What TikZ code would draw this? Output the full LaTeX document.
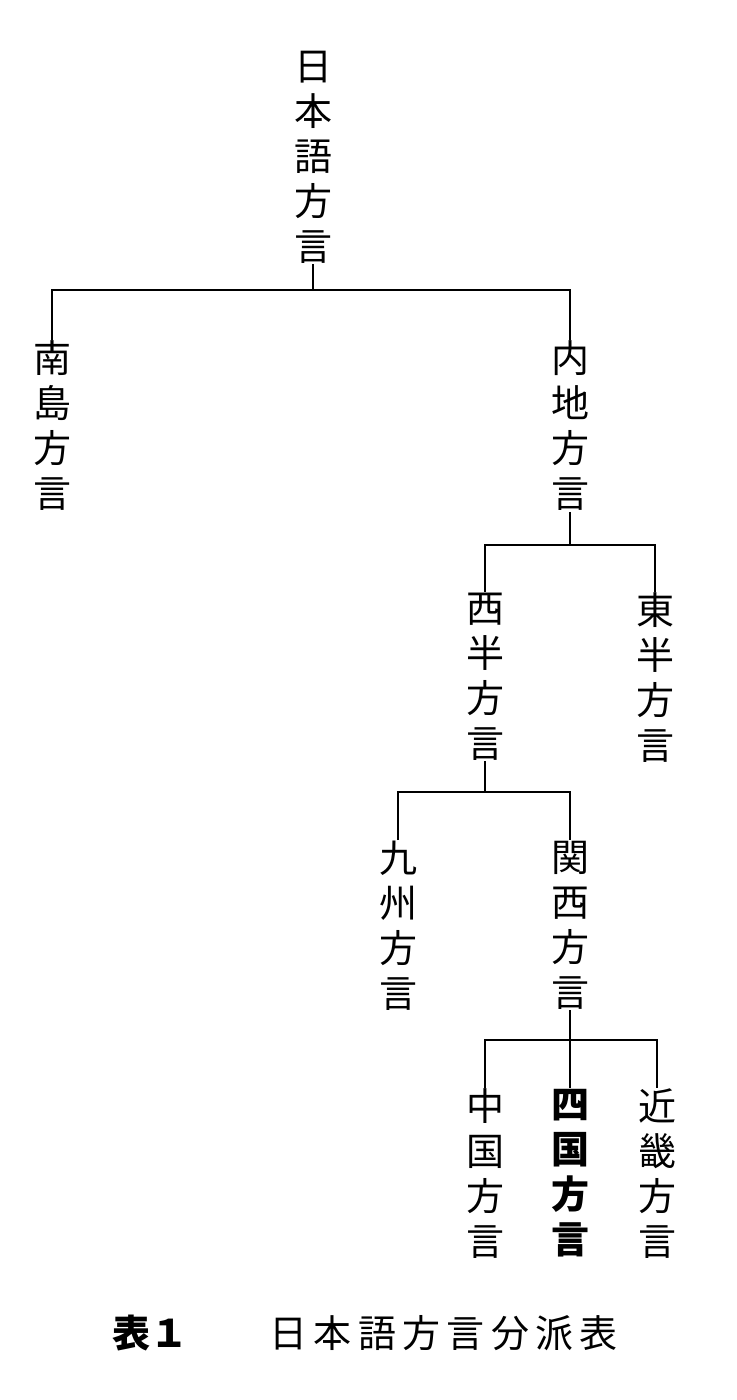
\documentclass[tikz,border=0pt]{standalone}
\usepackage{fontspec}
\newfontfamily\jp{Noto Sans CJK JP}
\tikzset{tate/.style={inner sep=0pt,anchor=north,align=center,font=\jp\fontsize{19}{22.5}\selectfont}}
\newcommand{\kana}[4]{#1\\#2\\#3\\#4}

\begin{document}
\begin{tikzpicture}[x=0.5pt,y=-0.5pt,line width=1pt]
\useasboundingbox (0,0) rectangle (736,1400);
			% tree
			\node [tate](root) at (313,50){\kana{日}{本}{語}{方}\\言};
			\coordinate (j1) at (313,290);
			\node [tate](nanto) at (52,340){\kana{南}{島}{方}{言}};
			\node [tate](naichi) at (570,340){\kana{内}{地}{方}{言}};
			\coordinate (j2) at (570,545);
			\node [tate](seihan) at (485,592){\kana{西}{半}{方}{言}};
			\node [tate](touhan) at (655,592){\kana{東}{半}{方}{言}};
			\coordinate (j3) at (485,792);
			\node [tate](kyushu) at (398,840){\kana{九}{州}{方}{言}};
			\node [tate](kansai) at (570,840){\kana{関}{西}{方}{言}};
			\coordinate (j4) at (570,1040);
			\node [tate](chugoku) at (485,1088){\kana{中}{国}{方}{言}};
			\node [tate,font=\jp\bfseries\fontsize{19}{22.5}\selectfont](shikoku) at (570,1088){\kana{四}{国}{方}{言}};
			\node [tate](kinki) at (657,1088){\kana{近}{畿}{方}{言}};
			
			\draw (root)--(j1);
			\draw (nanto.north) |- (j1) -| (naichi.north);
			\draw (naichi)--(j2);
			\draw (seihan.north) |- (j2) -| (touhan.north);
			\draw (seihan)--(j3);
			\draw (kyushu.north) |- (j3) -| (kansai.north);
			\draw (kansai)--(j4);
			\draw (chugoku.north) |- (j4) -| (kinki.north);
			\draw (j4)--(shikoku.north);
			
			% caption
			\node [font=\jp\bfseries\fontsize{19}{22}\selectfont](cap1) at (150,1333){表１};
			\node [font=\jp\fontsize{19}{22}\selectfont,anchor=west](cap2) at (262,1333){日\,本\,語\,方\,言\,分\,派\,表};
\end{tikzpicture}
\end{document}
